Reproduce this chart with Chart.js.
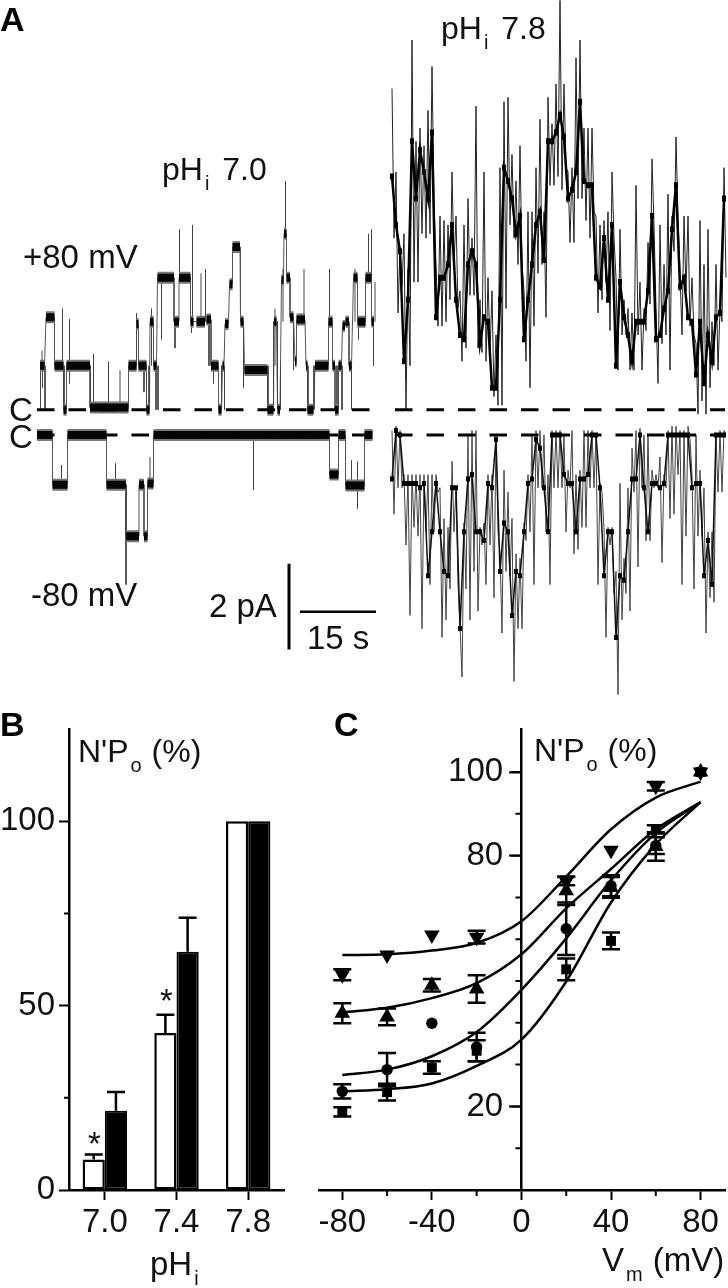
<!DOCTYPE html>
<html><head><meta charset="utf-8">
<script src="https://cdn.jsdelivr.net/npm/chart.js@4"></script>
<style>
html,body{margin:0;padding:0;background:#fff;width:728px;height:1288px;overflow:hidden}
canvas{position:absolute;display:block}
.t{position:absolute;font:33px/33px "Liberation Sans",Arial,sans-serif;color:#111;white-space:pre}
.m{font-size:32px;line-height:32px}
.b{font:bold 34px/34px "Liberation Sans",Arial,sans-serif;color:#000}
.s{font-size:20px;position:relative;top:10px;margin:0 1px 0 2px}
</style></head><body>
<canvas id="ca" width="728" height="700" style="left:0;top:0"></canvas>
<canvas id="cb" width="300" height="588" style="left:0;top:700px"></canvas>
<canvas id="cc" width="424" height="588" style="left:310px;top:700px"></canvas>
<div class="t b" style="left:0;top:2px">A</div>
<div class="t b" style="left:0;top:707px">B</div>
<div class="t b" style="left:334px;top:707px">C</div>
<div class="t m" style="left:162px;top:153px">pH<span class="s" style="margin-right:4px">i</span> 7.0</div>
<div class="t m" style="left:441px;top:12px">pH<span class="s" style="margin-right:4px">i</span> 7.8</div>
<div class="t" style="left:23px;top:240px">+80 mV</div>
<div class="t" style="left:31px;top:578px">-80 mV</div>
<div class="t" style="left:9px;top:393px">C</div>
<div class="t" style="left:9px;top:420px">C</div>
<div class="t" style="left:209px;top:589px">2 pA</div>
<div class="t" style="left:307px;top:621px">15 s</div>
<div class="t m" style="left:78px;top:735px">N'P<span class="s">o</span> (%)</div>
<div class="t m" style="left:534px;top:734px">N'P<span class="s">o</span> (%)</div>
<div class="t" style="left:150px;top:1247px">pH<span class="s">i</span></div>
<div class="t" style="left:602px;top:1243px">V<span class="s">m</span> (mV)</div>
<div class="t" style="left:88px;top:1127px">*</div>
<div class="t" style="left:160px;top:984px">*</div>
<script>
// ---------- Panel A: pHi 7.0 dwell levels (time s, current pA)
const pos70Start=[0.6,1.8,3.5,5.3,5.9,10.6,18.3,19.9,20.3,21.9,22.6,23.3,24.1,27.4,28.4,30.7,31.9,33.9,34.8,36.3,37.1,37.6,38.5,39.1,40.7,41.5,46.1,47.4,48.1,48.9,49.4,49.9,50.6,51.6,51.9,53.8,54.1,55.6,58.3,59.1,59.6,60.3,61.1,61.7,62.4,63.3,64.1,65.7,66.9];
const pos70End=[1.5,3.5,5.3,5.9,10.6,18.3,19.9,20.3,21.9,22.5,23.3,23.9,27.4,28.4,30.7,31.3,33.6,34.8,36.3,36.9,37.4,38.3,39.1,40.6,41.3,46.1,47.3,47.9,48.6,49.3,49.9,50.6,51.3,51.9,53.6,54.1,55.3,58.3,59.1,59.6,60.3,60.9,61.6,62.4,62.9,64.1,65.7,66.9,67.4];
const pos70Level=[1.0,2.1,1.0,0,1.0,0.05,1.0,1.95,1.0,0,2.0,1.0,3.0,2.0,3.0,2.0,2.0,2.05,1.0,0,1.0,1.95,2.85,3.7,2.0,0.9,0,2.0,0,2.95,4.0,3.0,2.1,1.1,2.05,1.0,0,1.0,2.0,1.0,0,1.0,1.9,2.0,1.0,3.0,2.0,3.0,2.0];
const pos70SpikeT=[1.0,5.1,6.5,11.3,14.3,16.6,19.9,22.9,28.5,31.1,32.8,33.7,41.3,47.6,49.7,49.2,53.4,58.5,63.6,66.3,66.9,67.6,1.1,6.5,21.4,24.9,27.6,30.9,35.3,41.3,51.3,64.3,67.3,0.7,1.6,5.4,10.7,21.9,22.4,23.8,24.2,34.4,36.9,37.5,46.2,47.3,48.1,48.7,54.2,55.4,60.0,61.0,62.9];
const pos70SpikeFrom=[1,1,1,0,0,0,1,1,3,2,2,2,1,1,4,2,2,2,2,3,3,2,1,1,1,3,2,2,1,1,2,2,2,1,1,1,1,1,1,1,1,2,1,1,1,2,2,1,1,1,1,1,1];
const pos70SpikeTo=[1.34,2.3,2.06,1.27,1.1,0.9,2.2,2.3,4.1,4.2,3.1,3.2,2.0,2.3,5.2,3.2,3.2,3.2,3.2,4.0,4.1,2.9,0.5,0.6,0.4,1.6,1.4,1.75,0.6,0.5,0.9,1.6,1.0,0,0,0,0,0,0,0,0,1,0,0,0,0,0,0,0,0,0,0,0];
const neg70Start=[0,3.1,6.1,13.9,17.8,20.4,21.4,22.1,23.3,58.5,60.3,61.7,65.5];
const neg70End=[3.1,6.1,13.9,17.8,20.4,21.4,22.1,23.3,58.5,60.3,61.7,65.5,67.1];
const neg70Level=[0,-1.13,0,-1.13,-2.3,-1.13,-2.3,-1.1,0,-0.9,0,-1.15,0];
const neg70SpikeT=[43.3,17.8,4.9,15.7,64.1,22.6,62.9,64.1];
const neg70SpikeFrom=[0,-1.13,-1.13,-1.13,-1.15,-1.1,-1.15,-1.15];
const neg70SpikeTo=[-1.25,-3.4,-0.68,-0.64,-1.67,-0.5,-0.57,-0.6];
// ---------- Panel A: pHi 7.8 sampled trace (pA), one sample per 0.8 s
const pos78Hi=[7.3,5.4,3.7,4.0,3.2,8.4,6.1,6.4,6.0,6.8,7.8,3.3,4.4,4.3,4.2,5.4,4.4,2.7,4.2,4.8,3.9,6.9,2.5,5.4,3.0,2.7,1.7,5.5,7.0,7.1,5.8,5.2,6.0,2.7,4.5,4.5,5.5,6.6,4.5,7.1,6.5,7.4,9.3,7.4,5.4,5.5,8.0,8.4,6.4,6.4,6.4,4.4,4.2,4.3,4.5,5.4,3.0,4.1,2.5,2.3,2.2,5.1,2.9,2.3,3.8,5.7,2.3,4.2,3.3,4.9,4.4,6.2,3.1,4.4,4.4,3.0,1.5,4.3,3.3,4.1,2.0,3.3,2.3,5.5];
const pos78Lo=[3.9,2.2,2.8,0.0,1.0,2.9,2.9,4.0,3.9,4.0,4.8,1.9,1.9,2.0,2.5,3.3,2.3,1.1,1.4,2.6,2.6,1.4,1.3,1.1,1.3,0.3,0.1,0.1,2.3,4.2,3.9,3.3,3.3,1.1,0.5,1.9,3.1,3.3,2.1,5.1,5.1,5.3,5.0,5.5,3.8,3.8,4.8,4.8,4.3,3.9,4.5,2.2,2.5,2.9,1.8,3.9,0.9,1.7,1.7,0.9,0.9,1.7,0.9,1.8,2.4,4.2,0.6,1.5,1.7,0.9,3.6,4.4,1.7,2.7,1.9,1.7,-0.1,0.2,-0.1,0.5,1.0,0.9,2.0,3.0];
const pos78Core=[5.3,4.2,3.6,1.1,2.5,6.1,4.8,5.9,5.4,4.8,6.3,2.1,3.0,3.0,3.3,4.2,2.5,1.7,1.6,3.3,3.6,3.3,1.5,2.1,2.0,0.5,0.5,2.5,5.5,5.2,4.8,4.0,4.4,1.6,2.5,3.3,4.2,4.5,3.4,6.1,6.1,6.3,6.7,6.2,4.8,5.0,5.4,7.0,5.2,5.1,5.1,3.0,2.8,3.9,2.5,4.2,1.0,2.9,2.1,1.7,1.1,2.0,2.0,2.0,2.7,4.4,1.6,1.7,2.3,2.7,4.1,5.1,2.8,3.0,2.1,2.0,0.8,2.0,0.6,1.7,1.1,2.1,2.2,4.8];
const neg78Hi=[0.1,0.2,0.1,-0.9,-0.9,-0.9,-0.9,-0.9,-0.9,-0.9,-0.9,-0.9,-1.2,-1.9,-2.1,-0.6,-1.2,-4.3,-2.0,0,0.1,0.1,-2.1,-2.0,-0.9,-0.9,0,-2.7,-0.8,-1.3,-1.9,-2.7,-2.8,-2.0,-0.9,0,0.1,0.1,0,-0.9,0.1,0.1,0.1,0,-0.8,0.1,-0.9,-0.8,0.1,0.1,0.1,0,-1.1,-2.1,-2.1,-2.1,-3.1,-1.1,-2.8,-1.2,-0.3,0.1,0.15,0,0,-0.8,-0.9,-0.5,-0.9,0.1,0.2,0.2,0.1,0.1,0.2,-0.9,0,-0.8,-1.2,-2.2,-2.2,0,0.1,0.1];
const neg78Lo=[-1.8,-1.2,-1.2,-2.5,-4.1,-2.1,-2.3,-4.4,-2.2,-3.4,-2.2,-1.3,-4.6,-4.2,-3.5,-2.2,-3.4,-5.5,-3.5,-4.2,-3.1,-4.0,-2.5,-3.4,-2.5,-3.7,-2.2,-4.5,-3.1,-3.2,-5.6,-4.4,-4.4,-2.4,-2.2,-3.4,-1.2,-1.2,-2.2,-3.4,-1.2,-1.2,-1.2,-2.2,-1.2,-2.7,-2.6,-2.1,-2.1,-1.2,-1.2,-3.4,-1.3,-4.6,-2.5,-3.6,-5.9,-4.2,-3.6,-4.0,-1.3,-3.0,-1.2,-2.4,-2.4,-1.2,-1.2,-2.9,-1.2,-1.9,-1.8,-0.9,-3.4,-2.3,-0.1,-3.5,-2.3,-2.3,-4.5,-3.7,-3.8,-1.3,-1.3,0];
const neg78Core=[-1.0,0.1,0,-1.1,-1.1,-1.1,-1.1,-1.2,-1.1,-3.2,-2.2,-1.1,-2.2,-3.1,-3.2,-1.2,-1.2,-4.4,-2.2,-1.0,-0.9,-2.2,-2.2,-2.4,-1.1,-1.2,-0.1,-3.1,-2.0,-2.2,-4.1,-3.1,-3.2,-2.2,-1.1,-1.0,-0.1,-0.3,-1.2,-2.2,0,0,0,-0.9,-1.1,-1.1,-2.2,-1.0,-1.0,-0.9,0,0,-1.2,-3.2,-2.2,-2.2,-4.6,-3.2,-3.3,-2.2,-1.0,-1.0,0,-1.2,-2.2,-1.1,-1.1,-1.2,-1.1,0,0,0,0,0,0,-1.2,-1.1,-1.1,-3.2,-2.4,-3.4,0,0,0];
const sampleStep=0.8, trace78Offset=71;
const baselineDashes70=[0,67.6], baselineDashes78=[71.6,137.6];
const barSeconds=[52.6,67.8], barPA=[-3.5,-5.45];
// ---------- Panel B
const phCategories=['7.0','7.4','7.8'];
const openValues=[8.3,42.6,100], openErr=[1.3,4.9,0];
const solidValues=[21.5,64.6,100], solidErr=[5.1,9.2,0];
const bMinorTicks=[25,75];
// ---------- Panel C
const vmValues=[-80,-60,-40,-20,20,40,60,80];
const downVals=[51.5,56.2,61,60.5,73.9,81.3,96.6,100], downErr=[1.3,0,0,1.5,1,0,1,0];
const upVals=[42.3,41.4,49,48.1,71.6,72.4,82.2,100], upErr=[2.4,2,1.5,3.3,3.4,2.5,3.4,0];
const circleVals=[23.6,28.8,39.9,34.2,62.5,72.8,82.4,100], circleErr=[1.7,4,0,3.4,6.3,2.5,2,0];
const squareVals=[18.7,23.4,29.3,33.3,52.8,59.6,86.3,100], squareErr=[1.1,2,1.5,2.5,2.6,2,1,0];
const fitVm=[-80,-60,-40,-20,0,20,40,60,80];
const fitDown=[56.2,56.4,57.3,59.1,64.3,75,86.3,93.9,97.7];
const fitUp=[42.5,43.6,45.9,49.5,56.4,67.4,76.8,86.3,92.8];
const fitCircle=[27.5,28.8,32,37.8,47.9,60.2,74.1,85.4,92.8];
const fitSquare=[23.6,24.1,25.5,29.7,36,49.9,68.8,82.7,92.8];
const cYTicksLabelled=[20,80,100];
const cXTicksLabelled=[-80,-40,0,40,80];
const cMinorX=[-60,-20,20,60];
const cMinorY=[10,30,40,50,60,70,90];

Chart.defaults.font.family='"Liberation Sans",Arial,sans-serif';
Chart.defaults.color='#111';
Chart.defaults.animation=false;
const INK='#000';

function dwellPts(s,e,l,off){const p=[];s.forEach((t,i)=>{p.push({x:t+off,y:l[i]},{x:e[i]+off,y:l[i]},{x:e[i]+off,y:null});});return p;}
function linkPts(s,e,l,off){const p=[];s.forEach((t,i)=>{p.push({x:t+off,y:l[i]},{x:e[i]+off,y:l[i]});});return p;}
function spikePts(t,a,b){const p=[];t.forEach((v,i)=>{p.push({x:v,y:a[i]},{x:v,y:b[i]},{x:v,y:null});});return p;}
function zigzagPts(hi,lo){const p=[];hi.forEach((v,i)=>{const t=trace78Offset+i*sampleStep;p.push({x:t,y:v},{x:t+sampleStep/2,y:lo[i]});});return p;}
function blobPts(c,half){const p=[];c.forEach((v,i)=>{const t=trace78Offset+i*sampleStep;p.push({x:t-half,y:v},{x:t+half,y:v},{x:t+half,y:null});});return p;}
function corePts(c){return c.map((v,i)=>({x:trace78Offset+i*sampleStep,y:v}));}
const L=(data,yAxisID,w,color,extra)=>Object.assign({data,yAxisID,borderWidth:w,borderColor:color,pointRadius:0,showLine:true,spanGaps:false,tension:0,borderCapStyle:'butt'},extra||{});
const PXS=5,PXPA=44;
// first dataset is painted last in Chart.js: heavy marks go first
new Chart(document.getElementById('ca'),{type:'scatter',data:{datasets:[
  L(barSeconds.map(x=>({x,y:-4.59})),'yPos',2.5,INK),
  L(barPA.map(y=>({x:50.4,y})),'yPos',3,INK),
  L(baselineDashes70.map(x=>({x,y:0})),'yPos',3,INK,{borderDash:[17.5,14]}),
  L(baselineDashes78.map(x=>({x,y:0})),'yPos',3,INK,{borderDash:[17.5,14]}),
  L(baselineDashes70.map(x=>({x,y:0})),'yNeg',3,INK,{borderDash:[17.5,14]}),
  L(baselineDashes78.map(x=>({x,y:0})),'yNeg',3,INK,{borderDash:[17.5,14]}),
  L(dwellPts(pos70Start,pos70End,pos70Level,0),'yPos',8,'#050505'),
  L(dwellPts(pos70Start,pos70End,pos70Level,0),'yPos',12,'#777'),
  L(spikePts(pos70SpikeT,pos70SpikeFrom,pos70SpikeTo),'yPos',1,'#444'),
  L(linkPts(pos70Start,pos70End,pos70Level,0),'yPos',1,'#555'),
  L(dwellPts(neg70Start,neg70End,neg70Level,0),'yNeg',8,'#050505'),
  L(dwellPts(neg70Start,neg70End,neg70Level,0),'yNeg',12,'#777'),
  L(spikePts(neg70SpikeT,neg70SpikeFrom,neg70SpikeTo),'yNeg',1,'#444'),
  L(linkPts(neg70Start,neg70End,neg70Level,0),'yNeg',1,'#555'),
  L(blobPts(pos78Core,0.4),'yPos',6,'#000'),
  L(corePts(pos78Core),'yPos',2.5,'#000'),
  L(zigzagPts(pos78Hi,pos78Lo),'yPos',1,'#222'),
  L(blobPts(neg78Core,0.4),'yNeg',5,'#000'),
  L(corePts(neg78Core),'yNeg',1.5,'#111'),
  L(zigzagPts(neg78Hi,neg78Lo),'yNeg',1,'#444')
]},options:{responsive:false,animation:false,layout:{padding:0},
 plugins:{legend:{display:false},tooltip:{enabled:false}},
 scales:{
  x:{type:'linear',display:false,min:-37/PXS,max:(728-37)/PXS},
  yPos:{type:'linear',display:false,min:(409.7-700)/PXPA,max:409.7/PXPA},
  yNeg:{type:'linear',display:false,min:(435-700)/PXPA,max:435/PXPA}
 }}});

function errPlugin(id,list,cap){return {id,afterDatasetsDraw(c){
  const g=c.ctx,ys=c.scales.y;g.save();g.strokeStyle=INK;g.lineWidth=2.5;
  list.forEach(([dsIndex,err])=>{const m=c.getDatasetMeta(dsIndex);
    m.data.forEach((el,i)=>{const v=c.data.datasets[dsIndex].data[i];const val=(typeof v==='object')?v.y:v;const e=err[i];if(!e)return;
      const top=ys.getPixelForValue(val+e),bot=ys.getPixelForValue(cap.two?val-e:val);
      g.beginPath();g.moveTo(el.x,bot);g.lineTo(el.x,top);g.moveTo(el.x-cap.w,top);g.lineTo(el.x+cap.w,top);
      if(cap.two){g.moveTo(el.x-cap.w,bot);g.lineTo(el.x+cap.w,bot);}g.stroke();});});
  g.restore();}};}
const noPad=s=>{s.paddingLeft=0;s.paddingRight=0;s.paddingTop=0;s.paddingBottom=0;};

// ---- Panel B
const H=588,by0=490,byTop=29;
new Chart(document.getElementById('cb'),{type:'bar',
 data:{labels:phCategories,datasets:[
  {data:openValues,backgroundColor:'#fff',borderColor:INK,borderWidth:2.5,borderSkipped:false,barPercentage:1,categoryPercentage:0.62},
  {data:solidValues,backgroundColor:INK,borderColor:INK,borderWidth:2,borderSkipped:false,barPercentage:1,categoryPercentage:0.62}]},
 options:{responsive:false,animation:false,
 layout:{padding:{left:0,right:16,top:byTop,bottom:0}},
 plugins:{legend:{display:false},tooltip:{enabled:false}},
 scales:{
  x:{type:'category',offset:true,afterFit:s=>{s.height=H-by0;noPad(s);},
    border:{color:INK,width:2.5},
    grid:{display:true,drawOnChartArea:false,offset:false,drawTicks:true,tickLength:10,tickWidth:2,tickColor:INK},
    ticks:{font:{size:33},color:'#111',padding:3,maxRotation:0}},
  y:{min:0,max:125,afterFit:s=>{s.width=69;noPad(s);},
    border:{color:INK,width:2.5},
    afterBuildTicks:s=>{s.ticks=[0,50,100].map(value=>({value}));},
    grid:{drawOnChartArea:false,tickLength:10,tickWidth:2,tickColor:INK},
    ticks:{font:{size:33},color:'#111',padding:4}}
 }},
 plugins:[errPlugin('errB',[[0,openErr],[1,solidErr]],{w:9,two:false}),
   {id:'minorB',afterDatasetsDraw(c){const g=c.ctx,ys=c.scales.y;g.save();g.strokeStyle=INK;g.lineWidth=2;g.beginPath();
     bMinorTicks.forEach(v=>{const p=ys.getPixelForValue(v);g.moveTo(c.chartArea.left-5,p);g.lineTo(c.chartArea.left,p);});g.stroke();g.restore();}}]
});

// ---- Panel C
const pts=(xs,ys)=>xs.map((x,i)=>({x,y:ys[i]}));
const mk=(ys,style,rot,r)=>({data:pts(vmValues,ys),pointStyle:style,rotation:rot,pointRadius:r,backgroundColor:INK,borderColor:INK,borderWidth:0,showLine:false});
const fit=(ys)=>({data:pts(fitVm,ys),showLine:true,pointRadius:0,borderColor:INK,borderWidth:2.5,cubicInterpolationMode:'monotone'});
new Chart(document.getElementById('cc'),{type:'scatter',
 data:{datasets:[mk(downVals,'triangle',180,9),mk(upVals,'triangle',0,9),mk(circleVals,'circle',0,5.7),mk(squareVals,'rect',0,7),fit(fitDown),fit(fitUp),fit(fitCircle),fit(fitSquare)]},
 options:{responsive:false,animation:false,
 layout:{padding:{left:7,right:3,top:byTop,bottom:0}},
 plugins:{legend:{display:false},tooltip:{enabled:false}},
 scales:{
  x:{type:'linear',min:-90.4,max:90.9,position:'bottom',afterFit:s=>{s.height=H-by0;noPad(s);},
    afterBuildTicks:s=>{s.ticks=cXTicksLabelled.map(value=>({value}));},
    border:{color:INK,width:2.5},
    grid:{drawOnChartArea:false,tickLength:10,tickWidth:2,tickColor:INK},
    ticks:{font:{size:33},color:'#111',padding:3,maxRotation:0,autoSkip:false}},
  y:{type:'linear',min:0,max:110.3,position:{x:0},afterFit:noPad,
    afterBuildTicks:s=>{s.ticks=cYTicksLabelled.map(value=>({value}));},
    border:{color:INK,width:2.5},
    grid:{drawOnChartArea:false,tickLength:11,tickWidth:2,tickColor:INK},
    ticks:{font:{size:33},color:'#111',autoSkip:false,callback:v=>v+'  '}}
 }},
 plugins:[errPlugin('errC',[[0,downErr],[1,upErr],[2,circleErr],[3,squareErr]],{w:9,two:true}),
  {id:'minorC',afterDatasetsDraw(c){const g=c.ctx,ys=c.scales.y,xs=c.scales.x,x0=xs.getPixelForValue(0),y0=ys.getPixelForValue(0);
    g.save();g.strokeStyle=INK;g.lineWidth=2;g.beginPath();
    cMinorY.forEach(v=>{const p=ys.getPixelForValue(v);g.moveTo(x0-6,p);g.lineTo(x0,p);});
    cYTicksLabelled.forEach(v=>{const p=ys.getPixelForValue(v);g.moveTo(x0-11,p);g.lineTo(x0,p);});
    cMinorX.forEach(v=>{const p=xs.getPixelForValue(v);g.moveTo(p,y0);g.lineTo(p,y0+6);});
    g.stroke();g.restore();}}]
});
</script></body></html>
